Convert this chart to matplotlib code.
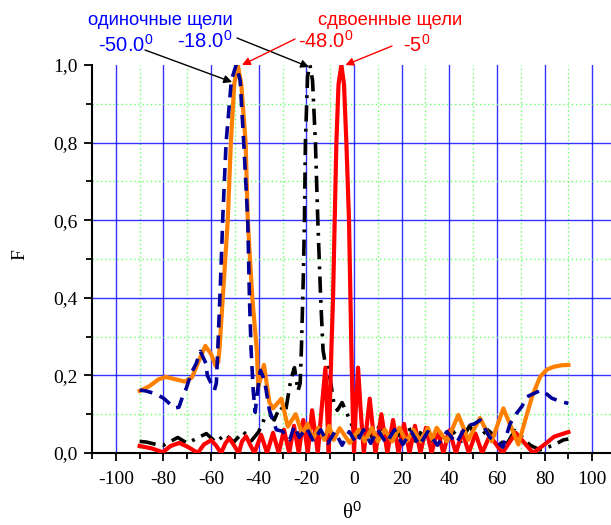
import numpy as np
import matplotlib
matplotlib.use("Agg")
import matplotlib.pyplot as plt

# single slit, -50 deg (blue dashed)
blue_x = [-90, -87.4, -83, -79.7, -75.5, -73.5, -72, -70.4, -68.4, -66.3, -64.5, -62.1, -61.6, -58.6,
          -57.8, -57.2, -56, -55, -53.7, -51.5, -49.5, -47.8, -46.3, -44.6, -43.9, -43.2, -42.3, -41.5,
          -40.5, -39.3, -37.6, -35.5, -32.6, -30, -27, -25, -23, -20, -17, -14, -11, -8, -5, -2, 1, 4,
          7, 10, 13.5, 17, 20.5, 24, 27.5, 31, 35, 39, 43, 47, 50.5, 53, 57, 60, 62.5, 65.5, 68, 70.5,
          72.6, 76.8, 78.5, 80.3, 83.1, 87, 90]
blue_y = [0.162, 0.16, 0.152, 0.14, 0.116, 0.118, 0.145, 0.167, 0.205, 0.23, 0.262, 0.23, 0.2, 0.162,
          0.18, 0.265, 0.45, 0.62, 0.8, 0.96, 1.0, 0.96, 0.8, 0.6, 0.4, 0.265, 0.16, 0.105,
          0.16, 0.213, 0.188, 0.11, 0.06, 0.056, 0.034, 0.07, 0.04, 0.065, 0.03, 0.06, 0.025, 0.055, 0.02, 0.055, 0.025, 0.06,
          0.025, 0.06, 0.025, 0.06, 0.022, 0.055, 0.02, 0.055, 0.02, 0.055, 0.025, 0.07, 0.075, 0.085, 0.04, 0.03, 0.015, 0.075, 0.1, 0.12,
          0.145, 0.157, 0.162, 0.155, 0.141, 0.132, 0.128]

# single slit, -18 deg (black dash-dot)
black_x = [-90, -87, -83, -80, -77, -74, -70, -66, -62, -58, -54, -50.5, -46.5, -43, -40, -37.5, -35.5,
           -33.5, -31, -28.8, -26.5, -25, -23.5, -22.6, -22.1, -21.3, -20.8, -20.4, -19.5, -18.5, -17.4,
           -16.2, -15.2, -14, -13, -12.3, -11, -10, -8.5, -7, -5, -3.2, -1.8, 0, 2.5, 5, 8, 11, 14, 17,
           20, 23, 26, 29, 32, 35, 38, 41, 45, 48.5, 52, 56, 61, 63.5, 67.5, 70, 74, 78, 83.7, 88, 90]
black_y = [0.03, 0.028, 0.022, 0.02, 0.03, 0.04, 0.025, 0.038, 0.05, 0.028, 0.048, 0.028, 0.055, 0.032, 0.055, 0.09, 0.1,
           0.085, 0.12, 0.105, 0.19, 0.22, 0.16, 0.18, 0.265, 0.45, 0.6, 0.8, 0.97, 1.0, 0.96,
           0.8, 0.6, 0.4, 0.265, 0.24, 0.23, 0.19, 0.13, 0.11, 0.13, 0.106, 0.085, 0.06, 0.04, 0.07, 0.035, 0.075, 0.035, 0.07,
           0.035, 0.065, 0.03, 0.065, 0.03, 0.06, 0.028, 0.06, 0.03, 0.07, 0.035, 0.06, 0.034, 0.016, 0.058, 0.045, 0.02, 0.008, 0.02, 0.034, 0.036]

# double slit, -48 deg (orange)
orange_x = [-90, -86, -82, -79, -75, -71, -68, -65, -62.4, -60, -58, -57, -56.5, -55.1, -53, -51.7, -50.3,
            -48.8, -47.3, -45.5, -44.6, -42.7, -40.8, -40.2, -37.8, -35.5, -34, -30.5, -27.8, -24.5, -21.8,
            -19.5, -17.3, -15, -12.5, -10.5, -8.5, -6, -1.8, 2, 4.5, 7.5, 10, 13, 16, 19, 22, 25, 28, 31,
            32.8, 34.7, 39, 43.8, 48, 52.9, 57.8, 62.7, 69, 72.6, 75, 78.2, 81, 83.8, 87, 90]
orange_y = [0.16, 0.172, 0.19, 0.196, 0.19, 0.184, 0.195, 0.24, 0.276, 0.255, 0.224, 0.235, 0.265, 0.4, 0.6, 0.8, 0.95,
            1.0, 0.95, 0.8, 0.6, 0.4, 0.265, 0.17, 0.227, 0.13, 0.115, 0.14, 0.068, 0.1, 0.05,
            0.075, 0.035, 0.065, 0.034, 0.07, 0.034, 0.064, 0.026, 0.06, 0.03, 0.065, 0.03, 0.06, 0.03, 0.065, 0.03, 0.06, 0.03, 0.065,
            0.035, 0.065, 0.03, 0.098, 0.034, 0.09, 0.03, 0.115, 0.022, 0.1, 0.15, 0.197, 0.215, 0.222, 0.226, 0.227]

# double slit, -5 deg (red)
red_x = [-90, -85, -80.3, -77, -73.4, -69.5, -65.6, -63, -60, -58, -55.8, -54, -52.3, -50.4, -48.4, -47,
         -45.3, -43.5, -41.8, -39, -36.5, -34, -31.6, -29.4, -27.2, -25.2, -23.2, -21.3, -19.4, -17.6,
         -15.2, -13.5, -12, -10.6, -10, -9.5, -8.8, -8.1, -7.4, -6.5, -5.3, -4.2, -3.2, -2.1, -1.5, -1.1,
         -0.5, 0, 0.8, 1.7, 2.7, 4.1, 6.6, 9, 11.5, 14, 16.4, 18.7, 21, 23.3, 25.6, 27.9, 30.2, 32.6, 35,
         37.5, 40, 42.8, 45.5, 48.2, 51, 53.8, 57, 62.3, 67.9, 75.2, 80, 84, 90]
red_y = [0.018, 0.012, 0.002, 0.018, 0.026, 0.015, 0.0, 0.022, 0.033, 0.02, 0.0, 0.025, 0.038, 0.02, 0.0, 0.03,
         0.043, 0.02, 0.0, 0.047, 0.0, 0.052, 0.0, 0.06, 0.0, 0.07, 0.0, 0.085, 0.0, 0.11,
         0.0, 0.12, 0.22, 0.0, 0.15, 0.265, 0.4, 0.6, 0.8, 0.95, 1.0, 0.95, 0.8, 0.6, 0.4, 0.265,
         0.1, 0.0, 0.12, 0.22, 0.12, 0.0, 0.14, 0.0, 0.1, 0.0, 0.085, 0.0, 0.075, 0.0, 0.07, 0.0, 0.065, 0.0, 0.06,
         0.0, 0.058, 0.0, 0.055, 0.0, 0.05, 0.0, 0.045, 0.0, 0.052, 0.0, 0.022, 0.042, 0.054]

plt.rcParams['font.family'] = ['Liberation Serif', 'DejaVu Serif']
plt.rcParams['axes.unicode_minus'] = False
plt.rcParams['mathtext.fontset'] = 'custom'
plt.rcParams['mathtext.rm'] = 'Liberation Sans'
plt.rcParams['mathtext.it'] = 'Liberation Serif'

fig = plt.figure(figsize=(6.11, 5.25), dpi=100)
ax = fig.add_axes([92 / 611, 72 / 525, 524 / 611, 388 / 525])

# grid drawn by hand so nothing lands on the top edge
for v in np.arange(-100, 101, 20):
    ax.axvline(v, color='#0000ff', lw=1.0, alpha=0.8, zorder=1)
for v in np.arange(-90, 91, 20):
    ax.axvline(v, color='#66ff66', lw=1.0, ls=(0, (1, 2)), zorder=1)
for v in [0.2, 0.4, 0.6, 0.8]:
    ax.axhline(v, color='#0000ff', lw=1.0, alpha=0.8, zorder=1)
for v in [0.1, 0.3, 0.5, 0.7, 0.9]:
    ax.axhline(v, color='#66ff66', lw=1.0, ls=(0, (1, 2)), zorder=1)

ax.plot(black_x, black_y, color='black', lw=2.6, ls=(0, (4.5, 2, 0.8, 2)), zorder=3)
ax.plot(red_x, red_y, color='#ff0000', lw=3.0, zorder=4, solid_joinstyle='round')
ax.plot(orange_x, orange_y, color='#ff8000', lw=3.0, zorder=5, solid_joinstyle='round')
ax.plot(blue_x, blue_y, color='#000099', lw=2.6, ls=(0, (3.6, 2.2)), zorder=6)

ax.set_xlim(-110, 110)
ax.set_ylim(0, 1.0)
ax.set_xticks(np.arange(-100, 101, 20))
ax.set_xticks(np.arange(-110, 111, 10), minor=True)
ax.set_yticks(np.arange(0, 1.01, 0.2))
ax.set_yticks(np.arange(0.1, 1.0, 0.2), minor=True)
ax.set_yticklabels(['0,0', '0,2', '0,4', '0,6', '0,8', '1,0'])
ax.tick_params(which='major', direction='out', length=6, width=1.3, labelsize=14, pad=4)
ax.tick_params(which='minor', direction='out', length=4, width=1.3)
ax.tick_params(axis='x', pad=7)
for s in ['top', 'right']:
    ax.spines[s].set_visible(False)
for s in ['left', 'bottom']:
    ax.spines[s].set_linewidth(1.5)

fig.text(20 / 611, 270 / 525, 'F', rotation=90, fontsize=14, ha='center', va='center')
fig.text(352 / 611, 12 / 525, r'θ$^{\mathit{0}}$', fontsize=15, ha='center', va='center')

sans = 'Liberation Sans'
blue_t = '#0000ff'
fig.text(88 / 611, 500 / 525, 'одиночные щели', family=sans, fontsize=13.2, color=blue_t)
fig.text(98 / 611, 473 / 525, r'-50.0$^0$', family=sans, fontsize=14.5, color=blue_t)
fig.text(177 / 611, 477 / 525, r'-18.0$^0$', family=sans, fontsize=14.5, color=blue_t)
fig.text(318 / 611, 500 / 525, 'сдвоенные щели', family=sans, fontsize=13.2, color='#ff0000')
fig.text(298 / 611, 477 / 525, r'-48.0$^0$', family=sans, fontsize=14.5, color='#ff0000')
fig.text(403 / 611, 473 / 525, r'-5$^0$', family=sans, fontsize=14.5, color='#ff0000')

arrows = [((145, 475), (-51.2, 0.956), 'black'),
          ((237, 487), (-18.9, 0.995), 'black'),
          ((295, 486), (-47.0, 1.0), '#ff0000'),
          ((392, 479), (-3.6, 1.0), '#ff0000')]
for start, tip, col in arrows:
    ax.annotate('', xy=tip, xycoords='data', xytext=start, textcoords='figure pixels',
                arrowprops=dict(arrowstyle='-|>', color=col, lw=1.0, mutation_scale=12,
                                shrinkA=0, shrinkB=0), annotation_clip=False, zorder=8)

fig.savefig('out.png', dpi=100)
